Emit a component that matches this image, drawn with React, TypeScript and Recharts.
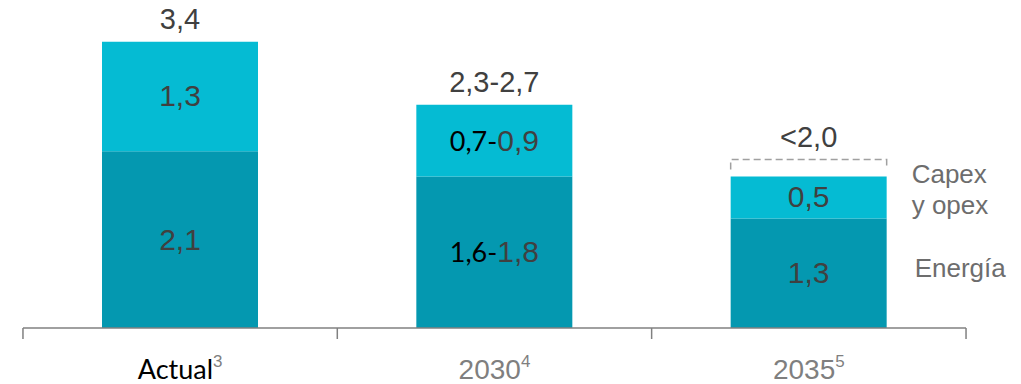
import React from 'react';
import { BarChart, Bar, XAxis, YAxis, LabelList } from 'recharts';

const categories = ['Actual', '2030', '2035'];
const superscripts = ['3', '4', '5'];
const energia = [2.1, 1.8, 1.3];
const capex = [1.3, 0.85, 0.5];
const bracket = [0, 0, 0.2];
const energiaLabels = ['2,1', '1,6-1,8', '1,3'];
const capexLabels = ['1,3', '0,7-0,9', '0,5'];
const totalLabels = ['3,4', '2,3-2,7', '<2,0'];
const capexName = ['Capex', 'y opex'];
const energiaName = ['Energía'];

const data = categories.map((name, i) => ({
  name,
  sup: superscripts[i],
  energia: energia[i],
  capex: capex[i],
  bracket: bracket[i],
}));

const numFont = '"Liberation Sans", Arial, sans-serif';
const altFont = 'Lato, "Open Sans", sans-serif';
const last = categories.length - 1;

const innerLabel = (labels: string[], names: string[], nameDx: number) => (props: any) => {
  const { x, y, width, height, index } = props;
  const text = labels[index];
  const cx = x + width / 2;
  const cy = y + height / 2 + 10;
  const parts = text.split('-');
  return (
    <g>
      <text x={cx} y={cy} textAnchor="middle" fontSize={30} fill="#404040" fontFamily={numFont}>
        {parts.length > 1 ? (
          <>
            <tspan fill="#000" fontFamily={altFont} fontSize={27}>{parts[0]}-</tspan>
            <tspan fontSize={30}>{parts[1]}</tspan>
          </>
        ) : (
          text
        )}
      </text>
      {index === last &&
        names.map((n, k) => (
          <text
            key={n}
            x={x + width + nameDx}
            y={names.length > 1 ? y + 7 + k * 31 : y + height / 2 + 4}
            fontSize={26}
            fill="#6d6d6d"
            fontFamily={numFont}
          >
            {n}
          </text>
        ))}
    </g>
  );
};

const TotalLabel = (props: any) => {
  const { x, y, width, index } = props;
  return (
    <text x={x + width / 2} y={y - 13} textAnchor="middle" fontSize={29} fill="#404040" fontFamily={numFont}>
      {totalLabels[index]}
    </text>
  );
};

const BracketShape = (props: any) => {
  const { x, y, width, height } = props;
  if (!height) return null;
  return (
    <path
      d={`M${x},${y + 10} L${x},${y} L${x + width},${y} L${x + width},${y + 10}`}
      fill="none"
      stroke="#a0a0a0"
      strokeWidth={1.5}
      strokeDasharray="7 4"
    />
  );
};

const AxisTick = (props: any) => {
  const { x, y, payload, index } = props;
  const half = 157.2;
  const i = payload?.index ?? index;
  const isFirst = i === 0;
  return (
    <g>
      <line x1={x - half} y1={y} x2={x - half} y2={y + 11} stroke="#808080" strokeWidth={1.5} />
      {i === last && <line x1={x + half} y1={y} x2={x + half} y2={y + 11} stroke="#808080" strokeWidth={1.5} />}
      <text
        x={x}
        y={y + 51}
        textAnchor="middle"
        fontSize={isFirst ? 27 : 28}
        fill={isFirst ? '#000' : '#7f7f7f'}
        fontFamily={isFirst ? altFont : numFont}
      >
        {payload.value}
        <tspan fontSize={17} dy={-12} fill="#7f7f7f" fontFamily={numFont}>
          {superscripts[i]}
        </tspan>
      </text>
    </g>
  );
};

export default function App() {
  return (
    <div style={{ position: 'absolute', left: 0, top: 0, width: 1021, height: 384, background: '#fff' }}>
      <BarChart width={1021} height={384} data={data} margin={{ top: 8, right: 55, left: 23, bottom: 0 }}>
        <XAxis
          dataKey="name"
          height={56}
          axisLine={{ stroke: '#808080', strokeWidth: 1.5 }}
          tickLine={false}
          tickSize={0}
          tickMargin={0}
          interval={0}
          tick={<AxisTick />}
        />
        <YAxis hide domain={[0, 3.8]} />
        <Bar dataKey="energia" stackId="a" fill="#0498b0" barSize={156} isAnimationActive={false}>
          <LabelList dataKey="energia" content={innerLabel(energiaLabels, energiaName, 28)} />
        </Bar>
        <Bar dataKey="capex" stackId="a" fill="#05bbd3" barSize={156} isAnimationActive={false}>
          <LabelList dataKey="capex" content={innerLabel(capexLabels, capexName, 25)} />
        </Bar>
        <Bar dataKey="bracket" stackId="a" fill="none" barSize={156} shape={<BracketShape />} isAnimationActive={false}>
          <LabelList dataKey="bracket" content={TotalLabel} />
        </Bar>
      </BarChart>
    </div>
  );
}
